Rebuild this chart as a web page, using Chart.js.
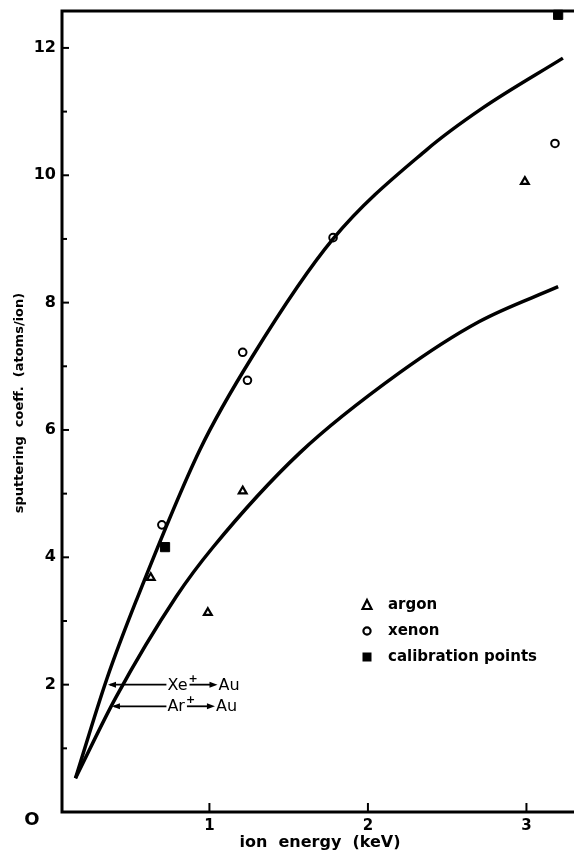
<!DOCTYPE html>
<html>
<head>
<meta charset="utf-8">
<script src="https://cdn.jsdelivr.net/npm/chart.js@4.4.0/dist/chart.umd.min.js"></script>
<style>
  body { margin: 0; background: #fff; }
  #wrap { width: 574px; height: 856px; }
</style>
</head>
<body>
<div id="wrap"><canvas id="sputterChart"></canvas></div>
<script>
// ===============================
// Values (energy in keV, atoms/ion)
// ===============================
const xeCurveE = [0.155, 0.35, 0.54, 0.94, 1.27, 1.78, 2.37, 2.72, 3.23];
const xeCurveS = [0.53, 2.07, 3.33, 5.69, 7.15, 9.0, 10.4, 11.05, 11.84];

const arCurveE = [0.155, 0.41, 0.79, 1.02, 1.57, 2.2, 2.7, 3.2];
const arCurveS = [0.53, 1.80, 3.38, 4.15, 5.64, 6.9, 7.7, 8.25];

const argonE = [0.63, 0.99, 1.21, 2.99];
const argonS = [3.68, 3.13, 5.04, 9.9];

const xenonE = [0.70, 1.21, 1.24, 1.78, 3.18];
const xenonS = [4.51, 7.22, 6.78, 9.02, 10.5];

const calibE = [0.72, 3.20];
const calibS = [4.16, 12.52];

const legendLabels = ["argon", "xenon", "calibration points"];

// arrow labels pointing at the curves
const annoIon = ["Xe", "Ar"];
const annoTipE = [0.36, 0.385];
const annoS = [2.0, 1.66];
const annoTextE = [0.735, 0.735];

const xTickLabels = ["1", "2", "3"];

const pts = (xs, ys) => xs.map((x, i) => ({ x: x, y: ys[i] }));
const FONT = '"DejaVu Sans", sans-serif';

// frame, inward ticks, titles, legend, arrow labels
const decor = {
    id: "decor",
    afterDraw(chart) {
        const { ctx, chartArea: a, scales } = chart;
        const xs = scales.x, ys = scales.y;
        ctx.save();
        ctx.strokeStyle = "#000";
        ctx.fillStyle = "#000";
        ctx.lineCap = "butt";

        // frame (no right edge)
        ctx.lineWidth = 3;
        ctx.beginPath();
        ctx.moveTo(a.right, a.top);
        ctx.lineTo(a.left, a.top);
        ctx.lineTo(a.left, a.bottom);
        ctx.lineTo(a.right, a.bottom);
        ctx.stroke();

        // y ticks pointing inward
        ctx.lineWidth = 2;
        ys.ticks.forEach(t => {
            const py = ys.getPixelForValue(t.value);
            ctx.beginPath();
            ctx.moveTo(a.left, py);
            ctx.lineTo(a.left + (t.value % 2 === 0 ? 7 : 5), py);
            ctx.stroke();
        });
        // x ticks pointing up
        xs.ticks.forEach(t => {
            const px = xs.getPixelForValue(t.value);
            ctx.beginPath();
            ctx.moveTo(px, a.bottom);
            ctx.lineTo(px, a.bottom - 9);
            ctx.stroke();
        });

        // origin
        ctx.font = "bold 18px " + FONT;
        ctx.textAlign = "center";
        ctx.textBaseline = "middle";
        ctx.fillText("O", a.left - 30, a.bottom + 8);

        // axis titles
        ctx.font = "bold 16px " + FONT;
        ctx.fillText("ion  energy  (keV)", 320, a.bottom + 31);
        ctx.save();
        ctx.translate(20, 403);
        ctx.rotate(-Math.PI / 2);
        ctx.font = "bold 13px " + FONT;
        ctx.fillText("sputtering  coeff.  (atoms/ion)", 0, 0);
        ctx.restore();

        // legend
        const lx = 367, ly = [605, 631, 657];
        ctx.textAlign = "left";
        ctx.font = "bold 15px " + FONT;
        legendLabels.forEach((lab, i) => {
            const y = ly[i];
            ctx.lineWidth = 2.2;
            ctx.beginPath();
            if (i === 0) {
                ctx.moveTo(lx, y - 5);
                ctx.lineTo(lx + 4.5, y + 4);
                ctx.lineTo(lx - 4.5, y + 4);
                ctx.closePath();
                ctx.stroke();
            } else if (i === 1) {
                ctx.arc(lx, y, 3.6, 0, Math.PI * 2);
                ctx.stroke();
            } else {
                ctx.fillRect(lx - 4.5, y - 4.5, 9, 9);
            }
            ctx.fillText(lab, 388, y);
        });

        // arrow labels
        annoIon.forEach((ion, i) => {
            const tip = xs.getPixelForValue(annoTipE[i]);
            const tx = xs.getPixelForValue(annoTextE[i]);
            const py = ys.getPixelForValue(annoS[i]);
            ctx.lineWidth = 1.8;
            ctx.beginPath();
            ctx.moveTo(tip + 2, py);
            ctx.lineTo(tx - 1, py);
            ctx.stroke();
            ctx.beginPath();
            ctx.moveTo(tip, py);
            ctx.lineTo(tip + 8, py - 3);
            ctx.lineTo(tip + 8, py + 3);
            ctx.closePath();
            ctx.fill();

            ctx.font = "16px " + FONT;
            ctx.textAlign = "left";
            ctx.fillText(ion, tx, py + 1);
            const w = ctx.measureText(ion).width;
            ctx.font = "bold 11px " + FONT;
            ctx.fillText("+", tx + w + 1, py - 6);
            // small arrow to "Au"
            const ax0 = tx + w + 2, ax1 = tx + w + 30;
            ctx.beginPath();
            ctx.moveTo(ax0, py);
            ctx.lineTo(ax1 - 6, py);
            ctx.stroke();
            ctx.beginPath();
            ctx.moveTo(ax1, py);
            ctx.lineTo(ax1 - 8, py - 3);
            ctx.lineTo(ax1 - 8, py + 3);
            ctx.closePath();
            ctx.fill();
            ctx.font = "16px " + FONT;
            ctx.fillText("Au", ax1 + 1, py + 1);
        });

        ctx.restore();
    }
};

new Chart(document.getElementById("sputterChart"), {
    type: "scatter",
    data: {
        datasets: [
            {
                label: "Xe+ -> Au",
                data: pts(xeCurveE, xeCurveS),
                showLine: true,
                borderColor: "#000",
                borderWidth: 3.5,
                pointRadius: 0,
                cubicInterpolationMode: "monotone"
            },
            {
                label: "Ar+ -> Au",
                data: pts(arCurveE, arCurveS),
                showLine: true,
                borderColor: "#000",
                borderWidth: 3.5,
                pointRadius: 0,
                cubicInterpolationMode: "monotone"
            },
            {
                label: "argon",
                data: pts(argonE, argonS),
                pointStyle: "triangle",
                pointRadius: 4.5,
                borderWidth: 2.2,
                borderColor: "#000",
                backgroundColor: "#fff"
            },
            {
                label: "xenon",
                data: pts(xenonE, xenonS),
                pointStyle: "circle",
                pointRadius: 3.8,
                borderWidth: 2,
                borderColor: "#000",
                backgroundColor: "#fff"
            },
            {
                label: "calibration points",
                data: pts(calibE, calibS),
                pointStyle: "rect",
                pointRadius: 6.5,
                borderWidth: 1,
                borderColor: "#000",
                backgroundColor: "#000",
                clip: false
            }
        ]
    },
    options: {
        responsive: true,
        maintainAspectRatio: false,
        animation: false,
        layout: {
            autoPadding: false,
            padding: { top: 11, right: 0, left: 0, bottom: 0 }
        },
        scales: {
            x: {
                type: "linear",
                min: 0.07,
                max: 3.3,
                grid: { display: false, drawTicks: false },
                border: { display: false },
                afterFit: s => { s.height = 44; s.paddingLeft = 0; s.paddingRight = 0; },
                ticks: {
                    stepSize: 1,
                    includeBounds: false,
                    padding: 5,
                    color: "#000",
                    font: { family: FONT, weight: "bold", size: 15 },
                    callback: v => xTickLabels[Math.round(v) - 1] || ""
                }
            },
            y: {
                type: "linear",
                min: 0,
                max: 12.58,
                grid: { display: false, drawTicks: false },
                border: { display: false },
                afterFit: s => { s.width = 62; s.paddingTop = 0; s.paddingBottom = 0; },
                ticks: {
                    stepSize: 1,
                    includeBounds: false,
                    padding: 6,
                    color: "#000",
                    font: { family: FONT, weight: "bold", size: 16 },
                    callback: v => (v > 0 && v % 2 === 0) ? String(v) : ""
                }
            }
        },
        plugins: {
            legend: { display: false },
            tooltip: { enabled: false }
        }
    },
    plugins: [decor]
});
</script>
</body>
</html>
